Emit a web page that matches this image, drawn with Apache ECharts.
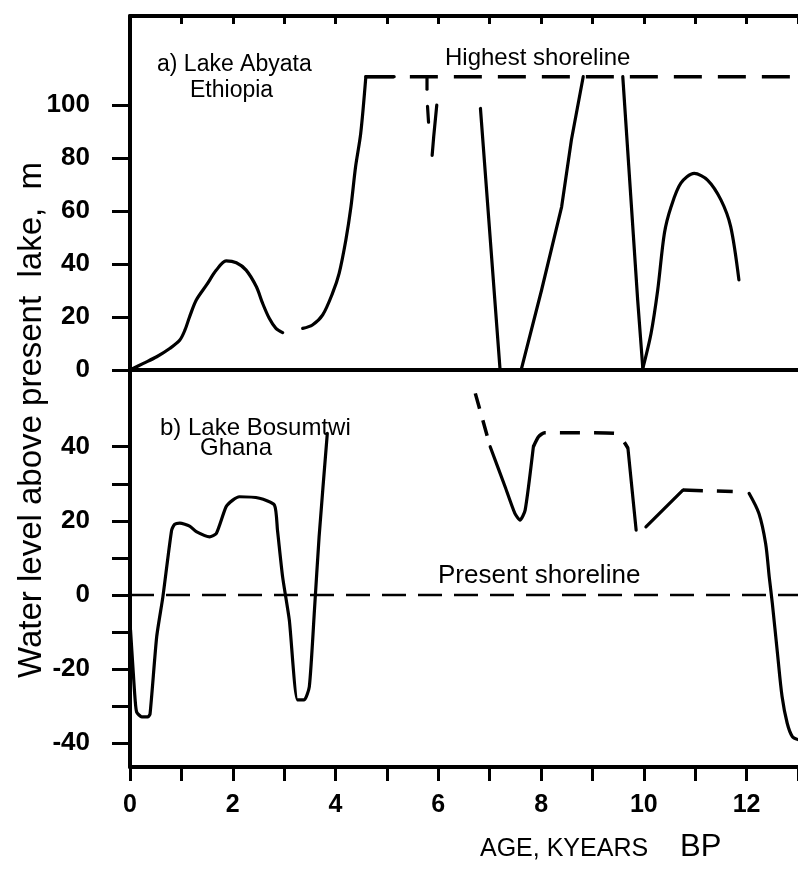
<!DOCTYPE html>
<html>
<head>
<meta charset="utf-8">
<title>Lake levels</title>
<script src="https://cdn.jsdelivr.net/npm/echarts@6.0.0/dist/echarts.min.js"></script>
<style>
  html, body { margin: 0; padding: 0; background: #fff; }
  #chart { width: 798px; height: 872px; }
</style>
</head>
<body>
<div id="chart"></div>
<script>
// ages in kyr BP, levels in m above present lake
var ageLabels = [0, 2, 4, 6, 8, 10, 12];
var abyataTicks = [0, 20, 40, 60, 80, 100];
var bosumtwiTicks = [-40, -30, -20, -10, 0, 10, 20, 30, 40];
var bosumtwiLabels = [-40, -20, 0, 20, 40];

// a) Lake Abyata
var abyataRise1 = [[0, 0], [0.26, 2.5], [0.52, 5.0], [0.78, 8.2], [0.97, 11.3], [1.07, 15.1], [1.16, 20.1],
    [1.29, 26.4], [1.49, 32.1], [1.68, 37.7], [1.87, 41.2], [2.07, 40.5], [2.26, 37.7], [2.46, 31.4],
    [2.58, 25.2], [2.71, 19.5], [2.84, 15.7], [2.97, 14.1]];
var abyataRise2 = [[3.36, 15.7], [3.55, 17], [3.75, 20.8], [3.94, 28.9], [4.07, 36.5], [4.2, 49],
    [4.3, 61.6], [4.39, 76.7], [4.49, 89.3], [4.59, 110.7]];
var abyataTop = [[4.59, 110.7], [5.14, 110.7]];
var abyataBits = [
    [[5.78, 110.7], [5.78, 106]],
    [[5.79, 99.5], [5.81, 93.5]],
    [[5.97, 100], [5.91, 88], [5.88, 81]]
];
var abyataFall1 = [[6.82, 98.7], [7.2, 0.6]];
var abyataRise3 = [[7.62, 0.6], [8.01, 30.2], [8.4, 61.6], [8.59, 86.8], [8.82, 110.7]];
var abyataFall2 = [[9.59, 110.7], [9.75, 64.2], [9.88, 26.4], [9.98, 0.6]];
var abyataArc = [[9.98, 0.6], [10.14, 13.8], [10.27, 30.2], [10.4, 51.6], [10.53, 61.6], [10.72, 70.5],
    [10.98, 74.2], [11.24, 71.7], [11.5, 64.2], [11.69, 54.1], [11.85, 34]];
var highestShoreline = [[4.59, 110.7], [13, 110.7]];

// b) Lake Bosumtwi
var bosumtwiA = [[0.01, -9.4], [0.06, -20.2], [0.1, -28.3], [0.13, -31.6], [0.23, -32.9], [0.35, -32.9],
    [0.39, -32.1], [0.52, -11.2], [0.64, -0.5], [0.81, 17.5], [0.87, 19.1], [0.97, 19.4], [1.16, 18.6],
    [1.29, 17.1], [1.55, 15.7], [1.68, 16.6], [1.87, 23.8], [2.0, 25.6], [2.13, 26.5], [2.52, 26.1],
    [2.81, 24.3], [2.87, 17.5], [2.97, 4.9], [3.1, -6.7], [3.26, -28.3], [3.39, -28.3], [3.49, -24.7],
    [3.59, -4.0], [3.68, 15.7], [3.84, 43.6]];
var bosumtwiDash1 = [[6.72, 54.4], [7.01, 40]];
var bosumtwiV = [[7.01, 40], [7.3, 29.2], [7.49, 22], [7.59, 20.2], [7.69, 22.9], [7.85, 40]];
var bosumtwiDash2 = [[7.85, 40], [7.95, 42.7], [8.07, 43.8], [9.43, 43.6], [9.59, 41.8], [9.69, 39.6]];
var bosumtwiDrop = [[9.69, 39.6], [9.85, 17.5]];
var bosumtwiRise = [[10.04, 18.4], [10.76, 28.3]];
var bosumtwiDash3 = [[10.76, 28.3], [11.73, 27.9]];
var bosumtwiFall = [[12.05, 27.4], [12.24, 22], [12.37, 13.9], [12.44, 4.9], [12.5, -2.2], [12.6, -15.7],
    [12.69, -27.4], [12.79, -34.6], [12.89, -38.2], [13.0, -39]];
var presentShoreline = [[0, 0], [13, 0]];

var FONT = 'Liberation Sans, Arial, Helvetica, sans-serif';

function seg(data, xi, yi, opts) {
    opts = opts || {};
    return {
        type: 'line',
        xAxisIndex: xi,
        yAxisIndex: yi,
        data: data,
        symbol: 'none',
        smooth: opts.smooth || false,
        silent: true,
        lineStyle: {
            color: '#000',
            width: opts.width || 3.2,
            type: opts.dash || 'solid',
            cap: opts.dash ? 'butt' : 'round',
            join: 'round'
        }
    };
}

function txt(text, x, y, size, weight) {
    return {
        type: 'text', x: x, y: y, silent: true,
        style: {
            text: text, fill: '#000',
            font: (weight || 'normal') + ' ' + size + 'px ' + FONT,
            textAlign: 'left', textVerticalAlign: 'middle'
        }
    };
}

var frame = { show: true, onZero: false, lineStyle: { color: '#000', width: 4 } };

var series = [
    seg(abyataRise1, 0, 0, { smooth: 0.3 }),
    seg(abyataRise2, 0, 0, { smooth: 0.3 }),
    seg(abyataTop, 0, 0),
    seg(abyataFall1, 0, 0),
    seg(abyataRise3, 0, 0),
    seg(abyataFall2, 0, 0),
    seg(abyataArc, 0, 0, { smooth: 0.3 }),
    seg(highestShoreline, 0, 0, { dash: [28, 16], width: 3.5 }),

    seg(bosumtwiA, 2, 1, { smooth: 0.2 }),
    seg(bosumtwiDash1, 2, 1, { dash: [16, 12], width: 3.5 }),
    seg(bosumtwiV, 2, 1, { smooth: 0.2 }),
    seg(bosumtwiDash2, 2, 1, { dash: [20, 14], width: 3.5, smooth: 0.2 }),
    seg(bosumtwiDrop, 2, 1),
    seg(bosumtwiRise, 2, 1),
    seg(bosumtwiDash3, 2, 1, { dash: [20, 14], width: 3.5 }),
    seg(bosumtwiFall, 2, 1, { smooth: 0.3 }),
    seg(presentShoreline, 2, 1, { dash: [24, 12], width: 2.5 })
];
for (var i = 0; i < abyataBits.length; i++) {
    series.push(seg(abyataBits[i], 0, 0));
}

var chart = echarts.init(document.getElementById('chart'), null, { renderer: 'canvas' });
chart.setOption({
    animation: false,
    backgroundColor: '#fff',
    grid: [
        { left: 130, top: 16, width: 670, height: 354 },
        { left: 130, top: 370, width: 670, height: 397 }
    ],
    xAxis: [
        {   // top frame, ticks inside
            gridIndex: 0, type: 'value', position: 'top', min: 0, max: 13, interval: 1,
            axisLine: frame,
            axisTick: { show: true, inside: true, length: 8, lineStyle: { color: '#000', width: 3 } },
            axisLabel: { show: false }, splitLine: { show: false }
        },
        {   // separator between panels
            gridIndex: 0, type: 'value', position: 'bottom', min: 0, max: 13,
            axisLine: frame, axisTick: { show: false },
            axisLabel: { show: false }, splitLine: { show: false }
        },
        {
            gridIndex: 1, type: 'value', position: 'bottom', min: 0, max: 13, interval: 1,
            axisLine: frame,
            axisTick: { show: true, length: 14, lineStyle: { color: '#000', width: 3 } },
            axisLabel: {
                customValues: ageLabels, margin: 26, color: '#000',
                fontFamily: FONT, fontSize: 25, fontWeight: 'bold'
            },
            splitLine: { show: false }
        }
    ],
    yAxis: [
        {
            gridIndex: 0, type: 'value', min: 0, max: 133.6,
            axisLine: frame,
            axisTick: { show: true, customValues: abyataTicks, length: 18, lineStyle: { color: '#000', width: 3 } },
            axisLabel: {
                customValues: abyataTicks, margin: 40, color: '#000',
                fontFamily: FONT, fontSize: 26, fontWeight: 'bold'
            },
            splitLine: { show: false }
        },
        {
            gridIndex: 1, type: 'value', min: -46.4, max: 60.7,
            axisLine: frame,
            axisTick: { show: true, customValues: bosumtwiTicks, length: 18, lineStyle: { color: '#000', width: 3 } },
            axisLabel: {
                customValues: bosumtwiLabels, margin: 40, color: '#000',
                fontFamily: FONT, fontSize: 26, fontWeight: 'bold'
            },
            splitLine: { show: false }
        }
    ],
    graphic: [
        txt('a) Lake Abyata', 157, 65, 23),
        txt('Ethiopia', 190, 91, 23),
        txt('Highest shoreline', 445, 58, 24),
        txt('b) Lake Bosumtwi', 160, 428, 24),
        txt('Ghana', 200, 448, 24),
        txt('Present shoreline', 438, 576, 26),
        txt('AGE, KYEARS', 480, 849, 25),
        txt('BP', 680, 847, 31),
        {
            type: 'text', x: 32, y: 420, rotation: Math.PI / 2, silent: true,
            style: {
                text: 'Water level above present  lake,  m', fill: '#000',
                font: 'normal 33px ' + FONT,
                textAlign: 'center', textVerticalAlign: 'middle'
            }
        }
    ],
    series: series
});
</script>
</body>
</html>
